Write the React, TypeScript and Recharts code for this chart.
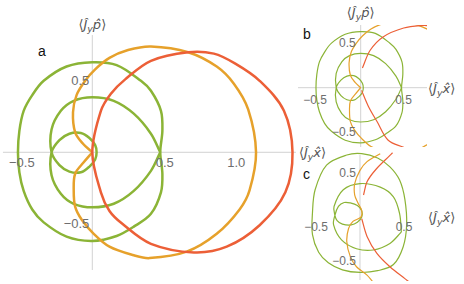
import React from "react"
import { LineChart, Line, XAxis, YAxis, ReferenceLine, ReferenceDot } from "recharts"

type P = [number, number]

// panel a curves (also used, clipped, in panel b)
const redA: P[] = [[0, 0], [0.06, 0.29], [0.13, 0.41], [0.23, 0.51], [0.41, 0.64], [0.67, 0.7], [0.85, 0.69], [1.0, 0.62], [1.17, 0.5], [1.34, 0.29], [1.4, 0], [1.35, -0.28], [1.17, -0.51], [0.94, -0.66], [0.71, -0.7], [0.41, -0.64], [0.21, -0.5], [0.12, -0.41], [0.06, -0.28], [0, 0]]
const orangeA: P[] = [[0, 0], [-0.065, 0.06], [-0.12, 0.14], [-0.135, 0.28], [-0.11, 0.4], [-0.05, 0.5], [0.02, 0.58], [0.12, 0.66], [0.25, 0.715], [0.41, 0.74], [0.67, 0.7], [0.87, 0.6], [0.99, 0.48], [1.09, 0.3], [1.145, 0], [1.1, -0.265], [1.03, -0.4], [0.87, -0.57], [0.66, -0.695], [0.4, -0.74], [0.29, -0.72], [0.12, -0.66], [0.01, -0.57], [-0.075, -0.47], [-0.12, -0.38], [-0.13, -0.265], [-0.12, -0.15], [-0.06, -0.07], [0, 0]]
const greenOuterA: P[] = [[-0.52, 0], [-0.51, 0.15], [-0.48, 0.29], [-0.42, 0.4], [-0.34, 0.5], [-0.18, 0.6], [0, 0.63], [0.17, 0.61], [0.34, 0.5], [0.41, 0.43], [0.48, 0.29], [0.49, 0.15], [0.475, 0], [0.49, -0.15], [0.48, -0.28], [0.41, -0.43], [0.29, -0.52], [0.17, -0.585], [0, -0.62], [-0.18, -0.59], [-0.34, -0.49], [-0.42, -0.4], [-0.48, -0.27], [-0.51, -0.14], [-0.52, 0]]
// heart with its small inner loop, one path from the right tip
const greenLoopA: P[] = [[0.475, 0], [0.41, 0.13], [0.29, 0.27], [0.15, 0.36], [0, 0.385], [-0.13, 0.36], [-0.22, 0.29], [-0.285, 0.16], [-0.285, 0], [-0.23, -0.09], [-0.16, -0.135], [-0.08, -0.14], [-0.02, -0.1], [0.02, -0.05], [0.03, 0], [0.02, 0.05], [-0.02, 0.1], [-0.08, 0.135], [-0.16, 0.13], [-0.23, 0.085], [-0.285, 0], [-0.285, -0.16], [-0.22, -0.29], [-0.13, -0.36], [0, -0.385], [0.15, -0.36], [0.29, -0.27], [0.41, -0.13], [0.475, 0]]

// panel b red arcs
const redB1: P[] = [[0.02, 0.22], [0.11, 0.42], [0.26, 0.57], [0.5, 0.67], [0.73, 0.7], [0.8, 0.695]]
const redB2: P[] = [[0.01, -0.03], [0.09, -0.21], [0.19, -0.38], [0.32, -0.59], [0.5, -0.67]]

// panel c curves
const greenOuterC: P[] = [[0.02, 0.72], [0.2, 0.67], [0.34, 0.57], [0.45, 0.42], [0.51, 0.2], [0.53, -0.09], [0.49, -0.34], [0.38, -0.54], [0.2, -0.61], [0, -0.63], [-0.2, -0.6], [-0.36, -0.52], [-0.47, -0.4], [-0.54, -0.2], [-0.54, 0.05], [-0.51, 0.31], [-0.38, 0.59], [-0.15, 0.705], [0.02, 0.72]]
const greenLoopC: P[] = [[0.47, -0.17], [0.45, 0.04], [0.38, 0.23], [0.23, 0.34], [0, 0.38], [-0.19, 0.31], [-0.295, 0.12], [-0.285, 0.02], [-0.26, -0.04], [-0.2, -0.08], [-0.1, -0.09], [-0.03, -0.06], [0.02, 0], [0.02, 0.07], [-0.03, 0.13], [-0.11, 0.16], [-0.18, 0.165], [-0.245, 0.12], [-0.285, 0.02], [-0.3, -0.09], [-0.21, -0.26], [-0.04, -0.36], [0.15, -0.375], [0.34, -0.3], [0.47, -0.17]]
const orangeC: P[] = [[0.23, 0.72], [0.08, 0.63], [0, 0.53], [-0.06, 0.38], [-0.06, 0.25], [-0.02, 0.155], [0.02, 0.07], [0.01, 0], [-0.08, -0.05], [-0.13, -0.13], [-0.15, -0.28], [-0.11, -0.45], [-0.04, -0.565], [0.08, -0.66], [0.14, -0.73]]
const redC1: P[] = [[0.04, 0.25], [0.08, 0.4], [0.18, 0.54], [0.34, 0.7], [0.37, 0.73]]
const redC2: P[] = [[0.02, -0.02], [0.08, -0.22], [0.19, -0.41], [0.34, -0.565], [0.51, -0.7], [0.55, -0.73]]

const ticksA: [number, string][] = [[-0.5, "\u22120.5"], [0.5, "0.5"], [1, "1.0"]]
const ticksBC: [number, string][] = [[-0.5, "\u22120.5"], [0.5, "0.5"]]

const RED = "#ec5f37"
const ORANGE = "#e6a12b"
const GREEN = "#8bb436"
const AXIS = "#d2d2d2"
const TICK = "#6e6e6e"
const FONT = "'Liberation Sans', Arial, sans-serif"
const TFONT = "'DejaVu Sans', sans-serif"

const toPts = (a: P[]) => a.map(([x, y]) => ({ x, y }))

// smooth curve through the points; a path that ends where it starts is joined without a corner
const smooth = (closedOk: boolean) => (context: any) => {
  let pts: number[][] = []
  return {
    areaStart() {},
    areaEnd() {},
    lineStart() {
      pts = []
    },
    point(x: number, y: number) {
      pts.push([x, y])
    },
    lineEnd() {
      const n = pts.length
      if (!n) return
      const closed = closedOk && n > 3 && Math.hypot(pts[0][0] - pts[n - 1][0], pts[0][1] - pts[n - 1][1]) < 0.5
      const prev = (i: number) => (i > 0 ? pts[i - 1] : closed ? pts[n - 2] : pts[i])
      const next = (i: number) => (i < n - 1 ? pts[i + 1] : closed ? pts[1] : pts[i])
      const tan = (i: number) => {
        const a = prev(i)
        const b = next(i)
        const dx = b[0] - a[0]
        const dy = b[1] - a[1]
        const l = Math.hypot(dx, dy) || 1
        return [dx / l, dy / l]
      }
      context.moveTo(pts[0][0], pts[0][1])
      for (let i = 0; i < n - 1; i++) {
        const p = pts[i]
        const q = pts[i + 1]
        const d = Math.hypot(q[0] - p[0], q[1] - p[1]) / 3
        const t1 = tan(i)
        const t2 = tan(i + 1)
        context.bezierCurveTo(p[0] + t1[0] * d, p[1] + t1[1] * d, q[0] - t2[0] * d, q[1] - t2[1] * d, q[0], q[1])
      }
    },
  }
}
const closedCurve = smooth(true)
const openCurve = smooth(false)

function Title({ v }: { v: string }) {
  return (
    <>
      <tspan>⟨</tspan>
      <tspan fontStyle="italic">Ĵ</tspan>
      <tspan fontStyle="italic" fontSize="0.72em" dy={3}>y</tspan>
      <tspan fontStyle="italic" dy={-3}>{v + "\u0302"}</tspan>
      <tspan>⟩</tspan>
    </>
  )
}

type Lbl = { x: number; y: number; text?: string; title?: string; dx: number; dy: number; anchor: "start" | "middle" | "end"; size: number }

const labelShape = (l: Lbl) => (p: any) => (
  <text
    x={p.cx + l.dx}
    y={p.cy + l.dy}
    textAnchor={l.anchor}
    fontSize={l.size}
    fill={l.title ? "#555" : TICK}
    fontFamily={l.title ? TFONT : FONT}
  >
    {l.title ? <Title v={l.title} /> : l.text}
  </text>
)

type Curve = { data: P[]; color: string; closed?: boolean }

interface PanelProps {
  left: number
  top: number
  width: number
  height: number
  margin: { top: number; right: number; bottom: number; left: number }
  xDomain: [number, number]
  yDomain: [number, number]
  curves: Curve[]
  stroke: number
  xAxis?: [number, number]
  yAxis: [number, number]
  labels: Lbl[]
}

function Panel(p: PanelProps) {
  return (
    <div style={{ position: "absolute", left: p.left, top: p.top }}>
      <LineChart width={p.width} height={p.height} margin={p.margin}>
        <XAxis type="number" dataKey="x" domain={p.xDomain} allowDataOverflow hide />
        <YAxis type="number" dataKey="y" domain={p.yDomain} allowDataOverflow hide />
        {p.xAxis && (
          <ReferenceLine
            segment={[{ x: p.xAxis[0], y: 0 }, { x: p.xAxis[1], y: 0 }]}
            stroke={AXIS}
            ifOverflow="visible"
          />
        )}
        <ReferenceLine
          segment={[{ x: 0, y: p.yAxis[0] }, { x: 0, y: p.yAxis[1] }]}
          stroke={AXIS}
          ifOverflow="visible"
        />
        {p.curves.map((c, i) => (
          <Line
            key={i}
            data={toPts(c.data)}
            dataKey="y"
            type={(c.closed ? closedCurve : openCurve) as any}
            stroke={c.color}
            strokeWidth={p.stroke}
            dot={false}
            activeDot={false}
            isAnimationActive={false}
          />
        ))}
        {p.labels.map((l, i) => (
          <ReferenceDot key={"l" + i} x={l.x} y={l.y} r={0} ifOverflow="visible" shape={labelShape(l)} />
        ))}
      </LineChart>
    </div>
  )
}

const labelsA: Lbl[] = [
  ...ticksA.map(([v, t]): Lbl => ({ x: v, y: 0, text: t, dx: 1, dy: 14.5, anchor: "middle", size: 13 })),
  ...ticksBC.map(([v, t]): Lbl => ({ x: 0, y: v, text: t, dx: -3, dy: 4.5, anchor: "end", size: 13 })),
  { x: 0, y: 0.82, title: "p", dx: 0, dy: -6, anchor: "middle", size: 13 },
  { x: 1.4237, y: 0, title: "x", dx: 3, dy: 4.5, anchor: "start", size: 13 },
]

const labelsB: Lbl[] = [
  ...ticksBC.map(([v, t]): Lbl => ({ x: v, y: 0, text: t, dx: v < 0 ? -2.5 : 0, dy: 16, anchor: "middle", size: 12 })),
  ...ticksBC.map(([v, t]): Lbl => ({ x: 0, y: v, text: t, dx: -5, dy: 3.5, anchor: "end", size: 12 })),
  { x: 0, y: 0.704, title: "p", dx: 0, dy: -8, anchor: "middle", size: 13 },
  { x: 0.771, y: 0, title: "x", dx: 1, dy: 5, anchor: "start", size: 13 },
]

const labelsC: Lbl[] = [
  ...ticksBC.map(([v, t]): Lbl => ({ x: v, y: 0, text: t, dx: 0, dy: 14, anchor: "middle", size: 12 })),
  ...ticksBC.map(([v, t]): Lbl => ({ x: 0, y: v, text: t, dx: -4, dy: 3.5, anchor: "end", size: 12 })),
  { x: 0.7614, y: 0, title: "x", dx: 1, dy: 5, anchor: "start", size: 13 },
]

const curvesA: Curve[] = [
  { data: greenOuterA, color: GREEN, closed: true },
  { data: greenLoopA, color: GREEN },
  { data: orangeA, color: ORANGE },
]

export default function App() {
  return (
    <div style={{ position: "absolute", left: 0, top: 0, width: 464, height: 284, background: "#fff", overflow: "hidden" }}>
      <Panel
        left={0}
        top={0}
        width={345}
        height={284}
        margin={{ top: 0, right: 45, bottom: 0, left: 0 }}
        xDomain={[-0.6455, 1.4524]}
        yDomain={[-0.921, 1.065]}
        curves={[...curvesA, { data: redA, color: RED, closed: true }]}
        stroke={2.5}
        xAxis={[-0.625, 1.4237]}
        yAxis={[0.82, -0.823]}
        labels={labelsA}
      />
      <Panel
        left={296}
        top={0}
        width={168}
        height={148}
        margin={{ top: 25, right: 37, bottom: 1, left: 2 }}
        xDomain={[-0.729, 0.771]}
        yDomain={[-0.666, 0.704]}
        curves={[...curvesA, { data: redB1, color: RED }, { data: redB2, color: RED }]}
        stroke={1.2}
        xAxis={[-0.729, 0.771]}
        yAxis={[0.704, -0.666]}
        labels={labelsB}
      />
      <Panel
        left={296}
        top={150}
        width={168}
        height={134}
        margin={{ top: 2, right: 37, bottom: 3, left: 2 }}
        xDomain={[-0.7045, 0.7614]}
        yDomain={[-0.727, 0.739]}
        curves={[
          { data: greenOuterC, color: GREEN, closed: true },
          { data: greenLoopC, color: GREEN },
          { data: orangeC, color: ORANGE },
          { data: redC1, color: RED },
          { data: redC2, color: RED },
        ]}
        stroke={1.2}
        yAxis={[0.705, -0.716]}
        labels={labelsC}
      />
      <svg width={464} height={284} style={{ position: "absolute", left: 0, top: 0, pointerEvents: "none" }}>
        <text x={38} y={56} fontSize={14} fontFamily={FONT} fill="#111">a</text>
        <text x={303} y={39} fontSize={14} fontFamily={FONT} fill="#111">b</text>
        <text x={303} y={179} fontSize={14} fontFamily={FONT} fill="#111">c</text>
      </svg>
    </div>
  )
}
